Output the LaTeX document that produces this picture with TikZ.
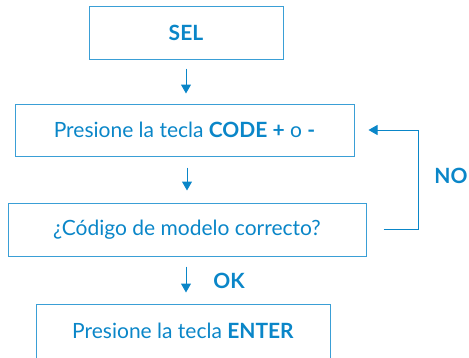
\documentclass[tikz,border=0pt]{standalone}
\usepackage{fontspec}
\setmainfont{Lato}
\usetikzlibrary{arrows.meta}
\definecolor{blu}{HTML}{0A86C8}
\definecolor{bline}{HTML}{3A9FD6}
\begin{document}
\begin{tikzpicture}[x=1pt,y=-1pt,
  box/.style={draw=bline,line width=1pt,rectangle,inner sep=0pt,text=blu,font=\fontsize{21}{24}\selectfont},
  flow/.style={draw=blu,line width=1pt,-{Triangle[width=10pt,length=9pt]},fill=none},
  lbl/.style={text=blu,font=\fontsize{21}{24}\selectfont\bfseries,inner sep=0pt}]
\useasboundingbox (0,0) rectangle (469,357);
\begin{scope}
\clip (0,0) rectangle (469,357);
\node[box,minimum width=194pt,minimum height=53pt] (sel) at (186,32.5) {\textbf{SEL}};
\node[box,minimum width=339pt,minimum height=52pt] (code) at (184.5,130) {Presione la tecla \textbf{CODE +} o \textbf{-}};
\node[box,minimum width=358pt,minimum height=53pt] (check) at (187,229.5) {¿Código de modelo correcto?};
\node[box,minimum width=294pt,minimum height=60pt] (enter) at (183,334) {\raisebox{6pt}{Presione la tecla \textbf{ENTER}}};
\node[lbl] (no) at (451,176) {NO};
\node[lbl] (ok) at (229,281) {OK};
\draw[flow] ([yshift=-9pt]sel.south) -- ([yshift=10pt]sel.south |- code.north);
\draw[flow] ([xshift=2.5pt,yshift=-11pt]code.south) -- ([xshift=2.5pt,yshift=12pt]code.south |- check.north);
\draw[flow] ([xshift=-1pt,yshift=-10pt]check.south) -- ([xshift=-1pt,yshift=11pt]check.south |- enter.north);
\coordinate (n1) at ([xshift=17pt]check.east);
\coordinate (n2) at ([xshift=14pt]code.east);
\draw[flow] (n1) -- ++(35,0) |- (n2);
\end{scope}
\end{tikzpicture}
\end{document}
